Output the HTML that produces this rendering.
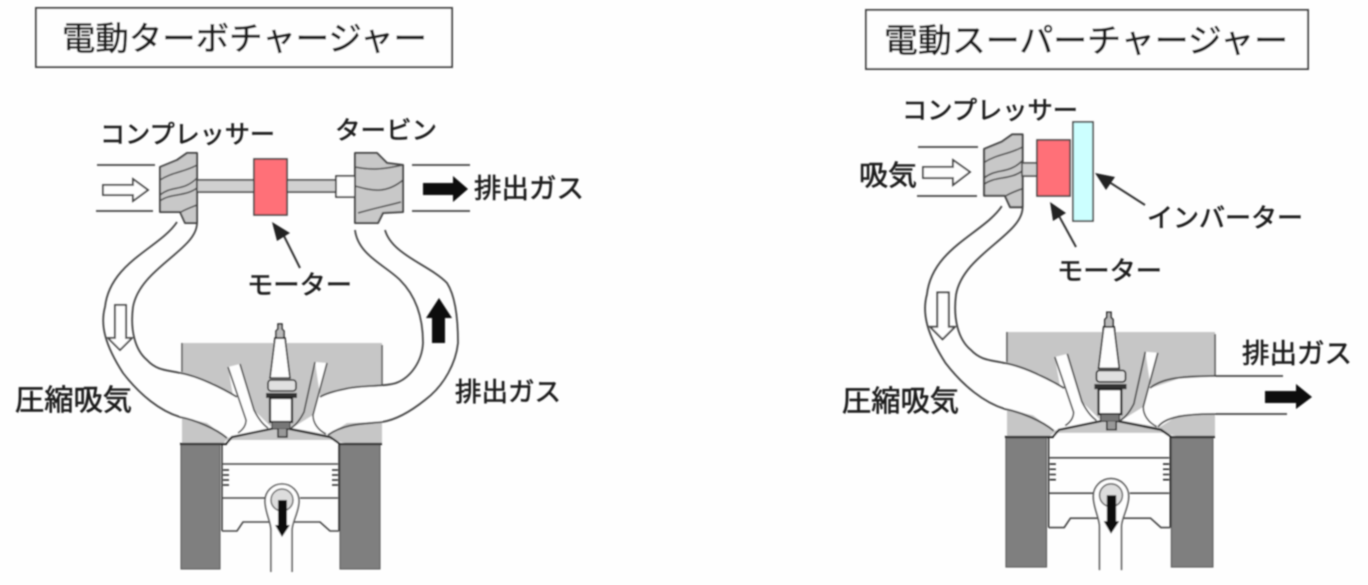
<!DOCTYPE html>
<html lang="ja"><head><meta charset="utf-8"><style>
html,body{margin:0;padding:0;background:#fefefe;width:1368px;height:585px;overflow:hidden}
svg{display:block}
text{font-family:"Liberation Sans","Noto Sans CJK JP",sans-serif;fill:#1c1c1c;stroke:#1c1c1c;stroke-width:.6}
</style></head><body>
<svg width="1368" height="585" viewBox="0 0 1368 585" xmlns="http://www.w3.org/2000/svg">
<defs>
<filter id="b" x="-2%" y="-2%" width="104%" height="104%"><feGaussianBlur stdDeviation="0.7"/></filter>
<g id="comp">
  <path d="M160 167L177 160L187 153H197V223H185L180 212H160Z" fill="#c8c8c8" stroke="#444" stroke-width="2" stroke-linejoin="round"/>
  <path d="M160 180C172 172 185 172 197 165M160 195C172 185 183 192 197 178M160 201C170 193 185 197 197 188M181 212C186 209 192 207 197 205" fill="none" stroke="#444" stroke-width="1.5"/>
</g>
<g id="engine">
  <rect x="182" y="343" width="200" height="100" fill="#c6c6c6"/>
  <path d="M182 343V372M382 345V386" stroke="#555" stroke-width="1.5"/>
  <path d="M180 373L213 383L237 397L246 420L268 428L227 438L207 423L180 417Z" fill="#fefefe" stroke="none"/>
  <path d="M382 386L347 388L320 397L312 425L296 428L328 435L347 423L382 422Z" fill="#fefefe" stroke="none"/>
  <path d="M228 367L240 364L254 410L272 428L240 434Z" fill="#fefefe" stroke="none"/>
  <path d="M315 362L327 363L313 415L292 428L326 434Z" fill="#fefefe" stroke="none"/>
  <path d="M227 440H333L345 443V444H222Z" fill="#fefefe"/>
  <path d="M228 367L246 420C246 425 244 429 238 433M240 364L254 410C258 418 262 424 268 428M315 362L304 412C300 420 296 425 291 428M327 363L313 415C313 423 318 430 326 434" fill="none" stroke="#444" stroke-width="1.6"/>
  <path d="M180 444H226L232 437L280 427L330 437L340 444H382" fill="none" stroke="#222" stroke-width="2.2"/>
  <rect x="181" y="445" width="39" height="124" fill="#7f7f7f" stroke="#555" stroke-width="1"/>
  <rect x="340" y="445" width="40" height="124" fill="#7f7f7f" stroke="#555" stroke-width="1"/>
  <path d="M222 444V531M339 444V531" stroke="#222" stroke-width="1.4"/>
  <path d="M222 464H338M222 498H265M300 498H338" fill="none" stroke="#444" stroke-width="1.6"/>
  <path d="M222 531H237L243 522H320L330 531H339" fill="none" stroke="#444" stroke-width="1.6"/>
  <path d="M223 470h6M223 475h6M223 480h6M223 485h6M332 470h6M332 475h6M332 480h6M332 485h6" stroke="#222" stroke-width="1.5"/>
  <path d="M271 572V530C271 522 265 512 265 501A17 17 0 1 1 299 501C299 512 292 522 292 530V572" fill="#fefefe" stroke="#555" stroke-width="1.6"/>
  <circle cx="282" cy="500" r="11" fill="#ddd" stroke="#666" stroke-width="1.5"/>
  <path d="M278 500H287V525H290L282 537L275 525H278Z" fill="#111"/>
  <path d="M275 338H285L290 378H270Z" fill="#fefefe" stroke="#222" stroke-width="1.6"/>
  <path d="M276 338V331L278 329V324H282V329L284 331V338Z" fill="#bbb" stroke="#222" stroke-width="1.5"/>
  <rect x="268" y="380" width="28" height="11" rx="3" fill="#e0e0e0" stroke="#222" stroke-width="1.6"/>
  <rect x="266" y="393" width="31" height="5" fill="#333"/>
  <rect x="270" y="398" width="22" height="24" fill="#fefefe" stroke="#222" stroke-width="2.2"/>
  <rect x="272" y="422" width="18" height="7" fill="#777" stroke="#222" stroke-width="1"/>
  <path d="M278 429V437H287V429" fill="#999" stroke="#222" stroke-width="1.5"/>
</g>
<g id="intake">
  <path d="M177 222C160 248 110 262 105 307C100 325 105 345 123 373C140 395 160 411 180 417C195 420 215 428 227 438" fill="none" stroke="#444" stroke-width="1.8"/>
  <path d="M197 223C197 250 140 268 133 307C130 330 135 350 147 360C157 371 168 370 180 373C198 376 222 388 237 397" fill="none" stroke="#444" stroke-width="1.8"/>
  <path d="M115 305H126V338H132L120 350L108 338H115Z" fill="#fefefe" stroke="#444" stroke-width="1.8"/>
</g>
</defs>
<g filter="url(#b)">
<!-- left diagram -->
<rect x="36" y="8" width="416" height="59" fill="#fefefe" stroke="#444" stroke-width="2"/>
<text x="62" y="50" font-size="33" textLength="365" lengthAdjust="spacingAndGlyphs">電動ターボチャージャー</text>
<use href="#engine"/>
<use href="#intake"/>
<path d="M355 230C358 255 385 265 400 280C415 295 423 315 423 343C422 362 410 378 396 383C385 387 360 385 345 389C335 391 325 394 320 397" fill="none" stroke="#444" stroke-width="1.8"/>
<path d="M385 230C392 255 430 265 447 283C456 297 458 320 458 343C456 362 445 385 425 400C410 412 395 420 382 422C365 424 345 423 328 435" fill="none" stroke="#444" stroke-width="1.8"/>
<path d="M97 165H155M96 211H153M412 165H470M412 211H470" stroke="#444" stroke-width="1.8"/>
<path d="M103 185H133V179L148 190L133 201V195H103Z" fill="#fefefe" stroke="#444" stroke-width="1.8"/>
<use href="#comp"/>
<rect x="197" y="180" width="57" height="12" fill="#d0d0d0" stroke="#444" stroke-width="1.6"/>
<rect x="287" y="180" width="49" height="12" fill="#d0d0d0" stroke="#444" stroke-width="1.6"/>
<rect x="254" y="159" width="33" height="56" fill="#ff7078" stroke="#444" stroke-width="1.6"/>
<rect x="336" y="176" width="19" height="21" fill="#fefefe" stroke="#333" stroke-width="1.6"/>
<path d="M355 153H377L387 163L403 165V212L383 213L378 223H355Z" fill="#c8c8c8" stroke="#444" stroke-width="2" stroke-linejoin="round"/>
<path d="M355 167C370 170 380 170 403 165M355 186C370 190 385 195 403 180M358 213C375 208 390 205 401 202" fill="none" stroke="#444" stroke-width="1.5"/>
<path d="M423 183H453V176L468 189L453 202V195H423Z" fill="#111"/>
<path d="M432 343V318H426L439 298L452 318H445V343Z" fill="#111"/>
<path d="M300 268L284 236" stroke="#333" stroke-width="2"/>
<path d="M272 222L290 233L277 241Z" fill="#222"/>
<text x="100" y="143" font-size="25" textLength="175" lengthAdjust="spacingAndGlyphs">コンプレッサー</text>
<text x="335" y="139" font-size="25" textLength="102" lengthAdjust="spacingAndGlyphs">タービン</text>
<text x="474" y="198" font-size="27" textLength="110" lengthAdjust="spacingAndGlyphs">排出ガス</text>
<text x="247" y="294" font-size="26" textLength="105" lengthAdjust="spacingAndGlyphs">モーター</text>
<text x="15" y="410" font-size="29" textLength="117" lengthAdjust="spacingAndGlyphs">圧縮吸気</text>
<text x="455" y="401" font-size="26" textLength="106" lengthAdjust="spacingAndGlyphs">排出ガス</text>

<!-- right diagram -->
<rect x="866" y="10" width="442" height="59" fill="#fefefe" stroke="#444" stroke-width="2"/>
<text x="884" y="52" font-size="33" textLength="404" lengthAdjust="spacingAndGlyphs">電動スーパーチャージャー</text>
<g transform="translate(1007 332) scale(1.04) translate(-182 -343)">
  <use href="#engine"/>
  <use href="#intake"/>
  <use href="#comp"/>
</g>
<path d="M1150 388C1160 380 1175 376 1213 376H1283" fill="none" stroke="#444" stroke-width="1.8"/>
<path d="M1158 427C1165 417 1185 414 1213 414H1287" fill="none" stroke="#444" stroke-width="1.8"/>
<path d="M1265 391H1296V384L1312 397L1296 409V403H1265Z" fill="#111"/>
<path d="M918 147H978M917 196H977" stroke="#444" stroke-width="1.8"/>
<path d="M923 167H953V160L970 172L953 185V178H923Z" fill="#fefefe" stroke="#444" stroke-width="1.8"/>
<rect x="1022" y="163" width="15" height="13" fill="#d0d0d0" stroke="#444" stroke-width="1.6"/>
<rect x="1037" y="140" width="33" height="56" fill="#ff7078" stroke="#444" stroke-width="1.6"/>
<rect x="1073" y="122" width="20" height="99" fill="#ccffff" stroke="#444" stroke-width="1.6"/>
<path d="M1145 205L1106 180" stroke="#333" stroke-width="2"/>
<path d="M1095 173L1115 177L1106 190Z" fill="#222"/>
<path d="M1076 247L1059 216" stroke="#333" stroke-width="2"/>
<path d="M1050 202L1066 213L1053 221Z" fill="#222"/>
<text x="902" y="119" font-size="25" textLength="176" lengthAdjust="spacingAndGlyphs">コンプレッサー</text>
<text x="859" y="185" font-size="28" textLength="58" lengthAdjust="spacingAndGlyphs">吸気</text>
<text x="1147" y="227" font-size="26" textLength="156" lengthAdjust="spacingAndGlyphs">インバーター</text>
<text x="1057" y="280" font-size="26" textLength="105" lengthAdjust="spacingAndGlyphs">モーター</text>
<text x="842" y="411" font-size="29" textLength="117" lengthAdjust="spacingAndGlyphs">圧縮吸気</text>
<text x="1242" y="363" font-size="27" textLength="110" lengthAdjust="spacingAndGlyphs">排出ガス</text>
</g>
</svg>
</body></html>
